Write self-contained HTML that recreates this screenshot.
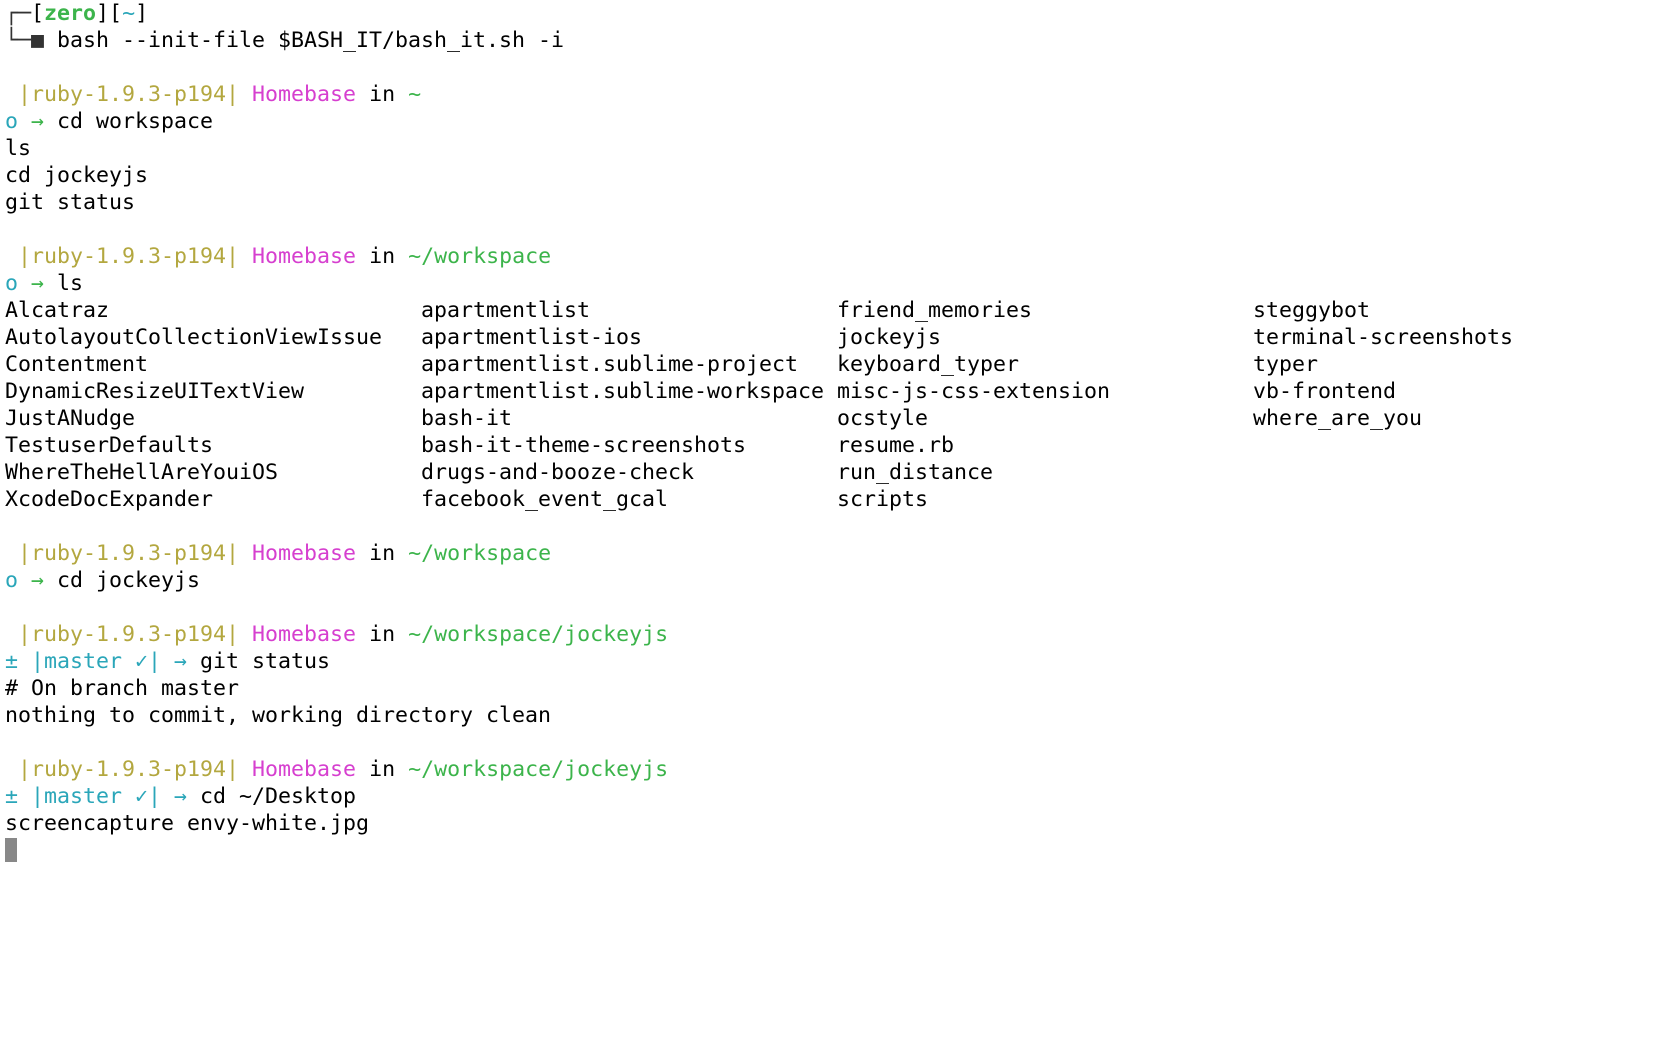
<!DOCTYPE html>
<html><head><meta charset="utf-8"><style>
html,body{margin:0;padding:0;background:#fff;width:1680px;height:1050px;overflow:hidden}
pre{margin:0;position:absolute;left:5px;top:0;font-family:"DejaVu Sans Mono","Liberation Mono",monospace;font-size:21.6px;line-height:27px;color:#000}
.y{color:#b3a73f}.m{color:#d63fcf}.g{color:#3cb44b}.c{color:#2aa6b9}.b{font-weight:bold}.k{color:#333}
.cur{display:inline-block;width:12px;height:24px;background:#888;vertical-align:-5px}
</style></head><body>
<pre><span class="k">┌─</span>[<span class="g b">zero</span>][<span class="c">~</span>]
<span class="k">└─■</span> bash --init-file $BASH_IT/bash_it.sh -i

 <span class="y">|ruby-1.9.3-p194|</span> <span class="m">Homebase</span> in <span class="g">~</span>
<span class="c">o</span> <span class="g">→</span> cd workspace
ls
cd jockeyjs
git status

 <span class="y">|ruby-1.9.3-p194|</span> <span class="m">Homebase</span> in <span class="g">~/workspace</span>
<span class="c">o</span> <span class="g">→</span> ls
Alcatraz                        apartmentlist                   friend_memories                 steggybot
AutolayoutCollectionViewIssue   apartmentlist-ios               jockeyjs                        terminal-screenshots
Contentment                     apartmentlist.sublime-project   keyboard_typer                  typer
DynamicResizeUITextView         apartmentlist.sublime-workspace misc-js-css-extension           vb-frontend
JustANudge                      bash-it                         ocstyle                         where_are_you
TestuserDefaults                bash-it-theme-screenshots       resume.rb
WhereTheHellAreYouiOS           drugs-and-booze-check           run_distance
XcodeDocExpander                facebook_event_gcal             scripts

 <span class="y">|ruby-1.9.3-p194|</span> <span class="m">Homebase</span> in <span class="g">~/workspace</span>
<span class="c">o</span> <span class="g">→</span> cd jockeyjs

 <span class="y">|ruby-1.9.3-p194|</span> <span class="m">Homebase</span> in <span class="g">~/workspace/jockeyjs</span>
<span class="c">± |master ✓| →</span> git status
# On branch master
nothing to commit, working directory clean

 <span class="y">|ruby-1.9.3-p194|</span> <span class="m">Homebase</span> in <span class="g">~/workspace/jockeyjs</span>
<span class="c">± |master ✓| →</span> cd ~/Desktop
screencapture envy-white.jpg
<span class="cur"></span></pre>
</body></html>
